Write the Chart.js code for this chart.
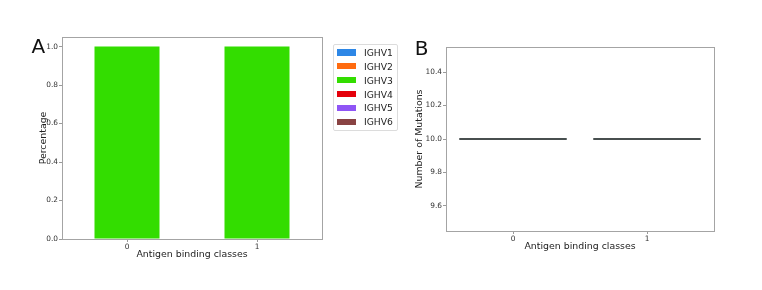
<!DOCTYPE html>
<html>
<head>
<meta charset="utf-8">
<script src="https://cdn.jsdelivr.net/npm/chart.js@4.4.1/dist/chart.umd.min.js"></script>
<style>
  body { margin: 0; background: #fff; width: 762px; height: 290px; position: relative; overflow: hidden; font-family: 'DejaVu Sans', sans-serif; }
  canvas { position: absolute; top: 0; }
  #chartA { left: 0; }
  #chartB { left: 400px; }
  .panel { position: absolute; font-size: 20px; line-height: 20px; color: #111; }
  #legendA { position: absolute; left: 333px; top: 44px; width: 63px; height: 85px; border: 1px solid #dcdcdc; border-radius: 2px; padding-top: 0.4px; }
  .item { height: 13.9px; display: flex; align-items: center; font-size: 9.2px; color: #222; white-space: nowrap; }
  .swatch { width: 19px; height: 6.5px; margin-left: 3px; margin-right: 8px; flex: none; }
</style>
</head>
<body>
<canvas id="chartA" width="330" height="290"></canvas>
<canvas id="chartB" width="362" height="290"></canvas>
<div class="panel" style="left:31.5px; top:36px;">A</div>
<div class="panel" style="left:414.7px; top:37.7px;">B</div>
<div id="legendA"></div>
<script>
// данные
const classes = ['0', '1'];
const genes = ['IGHV1', 'IGHV2', 'IGHV3', 'IGHV4', 'IGHV5', 'IGHV6'];
const geneColors = ['#2d87e6', '#ff6b0f', '#33dd00', '#e5000b', '#8f55f5', '#894343'];

// доля генов в каждом классе
const ighv1 = [0, 0];
const ighv2 = [0, 0];
const ighv3 = [1.0, 1.0];
const ighv4 = [0, 0];
const ighv5 = [0, 0];
const ighv6 = [0, 0];
const yTicksA = [0, 0.2, 0.4, 0.6, 0.8, 1.0];

// число мутаций (boxplot)
const mutMin = [10, 10];
const mutQ1 = [10, 10];
const mutMedian = [10, 10];
const mutQ3 = [10, 10];
const mutMax = [10, 10];
const yTicksB = [9.6, 9.8, 10.0, 10.2, 10.4];

const FONT = 'DejaVu Sans';
const TICK_SIZE = 7.4;
const tickGray = '#9a9a9a';
const frameGray = '#a4a4a4';

// рамка вокруг области графика
const frame = {
    id: 'frame',
    beforeDatasetsDraw(chart) {
        const { ctx, chartArea: a } = chart;
        ctx.save();
        ctx.strokeStyle = frameGray;
        ctx.lineWidth = 1;
        ctx.strokeRect(Math.round(a.left) + 0.5, Math.round(a.top) + 0.5,
            Math.round(a.right - a.left), Math.round(a.bottom - a.top));
        ctx.restore();
    },
};

const axisCommon = () => ({
    grid: { display: true, drawOnChartArea: false, drawTicks: true, tickLength: 3, color: tickGray, offset: false },
    border: { display: false },
});

// панель A
const seriesA = [ighv1, ighv2, ighv3, ighv4, ighv5, ighv6];
new Chart(document.getElementById('chartA'), {
    type: 'bar',
    data: {
        labels: classes,
        datasets: genes.map((g, i) => ({
            label: g,
            data: seriesA[i],
            backgroundColor: geneColors[i],
            borderWidth: 0,
            barPercentage: 0.5,
            categoryPercentage: 1.0,
        })),
    },
    options: {
        responsive: false,
        animation: false,
        layout: { padding: { top: 37, right: 8, bottom: 0, left: 0 } },
        plugins: { legend: { display: false }, tooltip: { enabled: false } },
        scales: {
            x: {
                ...axisCommon(),
                stacked: true,
                ticks: { padding: 1, color: '#333', font: { family: FONT, size: TICK_SIZE } },
                title: { display: true, text: 'Antigen binding classes', color: '#222', font: { family: FONT, size: 9.4 }, padding: { top: 0, bottom: 29.4 } },
                afterFit(s) { s.height = 51; },
            },
            y: {
                ...axisCommon(),
                stacked: true,
                min: 0,
                max: 1.05,
                afterBuildTicks(s) { s.ticks = yTicksA.map(v => ({ value: v })); },
                ticks: { padding: 1, color: '#333', font: { family: FONT, size: TICK_SIZE }, callback: v => v.toFixed(1) },
                title: { display: true, text: 'Percentage', color: '#222', font: { family: FONT, size: 9.4 }, padding: { top: 37.6, bottom: 0 } },
                afterFit(s) { s.width = 62; },
            },
        },
    },
    plugins: [frame],
});

// легенда
document.getElementById('legendA').innerHTML = genes.map((g, i) =>
    `<div class="item"><span class="swatch" style="background:${geneColors[i]}"></span>${g}</div>`
).join('');

// панель B
const halfW = 0.4;
const boxColor = '#3d4444';
const datasetsB = [];
classes.forEach((c, i) => {
    const l = i - halfW, r = i + halfW;
    datasetsB.push({
        data: [{ x: l, y: mutQ1[i] }, { x: r, y: mutQ1[i] }, { x: r, y: mutQ3[i] }, { x: l, y: mutQ3[i] }, { x: l, y: mutQ1[i] }],
    });
    datasetsB.push({ data: [{ x: l, y: mutMedian[i] }, { x: r, y: mutMedian[i] }] });
    datasetsB.push({ data: [{ x: i, y: mutQ1[i] }, { x: i, y: mutMin[i] }] });
    datasetsB.push({ data: [{ x: i, y: mutQ3[i] }, { x: i, y: mutMax[i] }] });
});
datasetsB.forEach(d => Object.assign(d, {
    showLine: true,
    borderColor: boxColor,
    borderWidth: 1.3,
    pointRadius: 0,
    tension: 0,
}));

new Chart(document.getElementById('chartB'), {
    type: 'scatter',
    data: { datasets: datasetsB },
    options: {
        responsive: false,
        animation: false,
        layout: { padding: { top: 47, right: 48, bottom: 0, left: 0 } },
        plugins: { legend: { display: false }, tooltip: { enabled: false } },
        scales: {
            x: {
                ...axisCommon(),
                type: 'linear',
                min: -0.5,
                max: 1.5,
                afterBuildTicks(s) { s.ticks = classes.map((c, i) => ({ value: i })); },
                ticks: { padding: 1, color: '#333', font: { family: FONT, size: TICK_SIZE }, callback: v => classes[v] },
                title: { display: true, text: 'Antigen binding classes', color: '#222', font: { family: FONT, size: 9.4 }, padding: { top: 0, bottom: 37.9 } },
                afterFit(s) { s.height = 59; },
            },
            y: {
                ...axisCommon(),
                min: 9.45,
                max: 10.55,
                afterBuildTicks(s) { s.ticks = yTicksB.map(v => ({ value: v })); },
                ticks: { padding: 1, color: '#333', font: { family: FONT, size: TICK_SIZE }, callback: v => v.toFixed(1) },
                title: { display: true, text: 'Number of Mutations', color: '#222', font: { family: FONT, size: 9.4 }, padding: { top: 13.9, bottom: 0 } },
                afterFit(s) { s.width = 46; },
            },
        },
    },
    plugins: [frame],
});
</script>
</body>
</html>
